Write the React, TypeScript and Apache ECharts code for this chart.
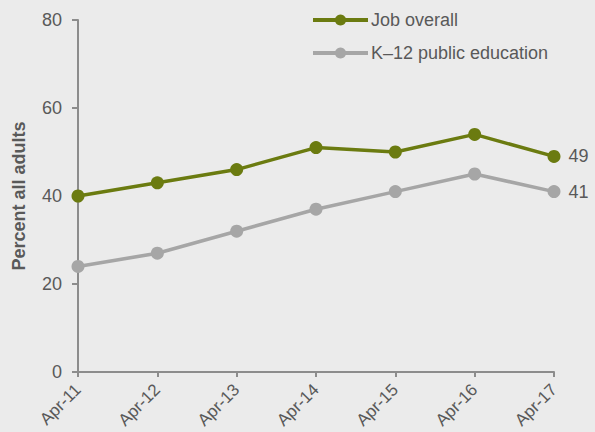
import React, { useEffect, useRef } from "react";
import * as echarts from "echarts";

const categories = ["Apr-11", "Apr-12", "Apr-13", "Apr-14", "Apr-15", "Apr-16", "Apr-17"];
const jobOverall = [40, 43, 46, 51, 50, 54, 49];
const k12Education = [24, 27, 32, 37, 41, 45, 41];
const seriesNames = ["Job overall", "K\u201312 public education"];
const yAxisName = "Percent all adults";

const GREEN = "#6B7B10";
const GRAY = "#A6A6A6";
const TEXT = "#595959";
const AXIS = "#8C8C8C";
const FONT = "'Liberation Sans', Arial, sans-serif";

export default function App() {
  const ref = useRef<HTMLDivElement>(null);
  useEffect(() => {
    if (!ref.current) return;
    const chart = echarts.init(ref.current, undefined, { renderer: "svg" });
    const lastLabel = (data: number[]) =>
      data.map((v, i) =>
        i === data.length - 1
          ? { value: v, label: { show: true, position: "right", distance: 8, color: TEXT, fontSize: 18, fontFamily: FONT } }
          : v
      );
    chart.setOption({
      animation: false,
      backgroundColor: "#EBEBEB",
      textStyle: { fontFamily: FONT },
      grid: { left: 78, right: 41, top: 20, bottom: 60 },
      legend: {
        orient: "vertical",
        left: 306,
        top: 6,
        itemWidth: 55,
        itemHeight: 14,
        itemGap: 15,
        data: seriesNames,
        lineStyle: { width: 4 },
        textStyle: { color: TEXT, fontSize: 18, fontFamily: FONT, padding: [0, 0, 0, -2] },
      },
      xAxis: {
        type: "category",
        data: categories,
        boundaryGap: false,
        axisLine: { lineStyle: { color: AXIS, width: 2 } },
        axisTick: { show: true, length: 5, alignWithLabel: true, lineStyle: { color: AXIS, width: 2 } },
        axisLabel: { rotate: 45, color: TEXT, fontSize: 17, fontFamily: FONT, margin: 15, interval: 0 },
      },
      yAxis: {
        type: "value",
        min: 0,
        max: 80,
        interval: 20,
        name: yAxisName,
        nameLocation: "middle",
        nameGap: 50,
        nameTextStyle: { color: TEXT, fontSize: 18, fontWeight: "bold", fontFamily: FONT },
        axisLine: { show: true, lineStyle: { color: AXIS, width: 2 } },
        axisTick: { show: true, length: 6, lineStyle: { color: AXIS, width: 2 } },
        axisLabel: { color: TEXT, fontSize: 18, fontFamily: FONT, margin: 16 },
        splitLine: { show: false },
      },
      series: [
        {
          name: seriesNames[0],
          type: "line",
          data: lastLabel(jobOverall),
          color: GREEN,
          symbol: "circle",
          symbolSize: 13,
          lineStyle: { width: 3.5, color: GREEN },
          itemStyle: { color: GREEN },
        },
        {
          name: seriesNames[1],
          type: "line",
          data: lastLabel(k12Education),
          color: GRAY,
          symbol: "circle",
          symbolSize: 13,
          lineStyle: { width: 3.5, color: GRAY },
          itemStyle: { color: GRAY },
        },
      ],
    });
    return () => chart.dispose();
  }, []);
  return (
    <div
      ref={ref}
      style={{ position: "fixed", left: 0, top: 0, width: 595, height: 432 }}
    />
  );
}
